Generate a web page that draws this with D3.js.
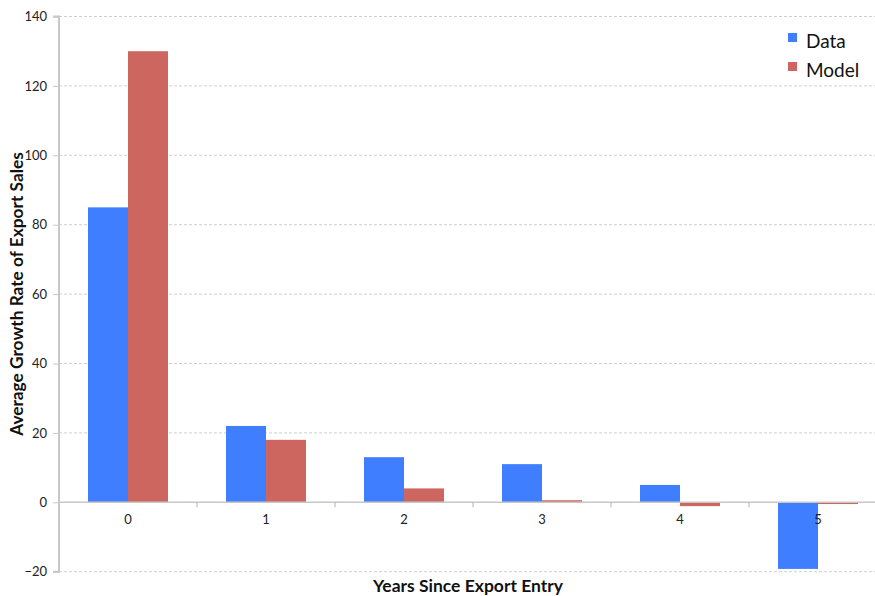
<!DOCTYPE html>
<html><head><meta charset="utf-8">
<script src="https://cdn.jsdelivr.net/npm/d3@7"></script>
<style>body{margin:0;background:#fff;} svg{display:block;font-family:Lato, "Open Sans", sans-serif;}</style>
</head><body>
<svg id="chart" width="875" height="596"></svg>
<script>
const categories = ["0","1","2","3","4","5"];
const seriesNames = ["Data","Model"];
const dataValues = [85, 22, 13, 11, 5, -19.2];
const modelValues = [130, 18, 4, 0.6, -1.1, -0.5];
const yTicks = [-20, 0, 20, 40, 60, 80, 100, 120, 140];
const colors = ["#3f7fff", "#cc665e"];

const svg = d3.select("#chart");
const mLeft = 59, mRight = 887, mTop = 16.5, mBottom = 571.7;

const x = d3.scaleBand().domain(categories).range([mLeft, mRight]).paddingInner(0).paddingOuter(0);
const xs = d3.scaleBand().domain(seriesNames).range([0, x.bandwidth()]).paddingInner(0).paddingOuter(0.725);
const y = d3.scaleLinear().domain([-20, 140]).range([mBottom, mTop]);

// gridlines
svg.append("g").selectAll("line").data(yTicks.filter(d => d !== 0)).join("line")
  .attr("x1", mLeft).attr("x2", 875).attr("y1", d => y(d)).attr("y2", d => y(d))
  .attr("stroke", "#cfcfcf").attr("stroke-width", 1).attr("stroke-dasharray", "3,2");

// y axis
const yAxis = d3.axisLeft(y).tickValues(yTicks).tickSize(6).tickPadding(6);
const gy = svg.append("g").attr("transform", `translate(${mLeft},0)`).call(yAxis);
gy.select(".domain").attr("stroke", "#c8c8c8").attr("stroke-width", 2).attr("d", `M-6,${y(140)}H0V${y(-20)}H-6`);
gy.selectAll(".tick line").attr("stroke", "#c8c8c8");
gy.selectAll("text").attr("font-size", 13).attr("fill", "#222").attr("font-family", "Lato, sans-serif");

// bars
const series = [dataValues, modelValues];
const g = svg.append("g");
categories.forEach((c, i) => {
  series.forEach((vals, s) => {
    const v = vals[i];
    g.append("rect")
      .attr("x", x(c) + xs(seriesNames[s]))
      .attr("width", xs.bandwidth())
      .attr("y", y(Math.max(0, v)))
      .attr("height", Math.abs(y(v) - y(0)))
      .attr("fill", colors[s]);
  });
});

// x axis at zero
const xAxis = d3.axisBottom(x).tickSize(0).tickPadding(12);
const gx = svg.append("g").attr("transform", `translate(0,${y(0)})`).call(xAxis);
gx.select(".domain").attr("stroke", "#c8c8c8").attr("stroke-width", 1.5).attr("d", `M${mLeft},0H875`);
gx.selectAll("text").attr("font-size", 13).attr("fill", "#222").attr("font-family", "Lato, sans-serif");
// separator ticks between categories
svg.append("g").selectAll("line").data(categories.slice(1)).join("line")
  .attr("x1", d => x(d)).attr("x2", d => x(d))
  .attr("y1", y(0)).attr("y2", y(0) + 5)
  .attr("stroke", "#b0b0b0").attr("stroke-width", 1);

// titles
svg.append("text").attr("transform", `translate(23,294) rotate(-90)`)
  .attr("text-anchor", "middle").attr("font-weight", "bold").attr("font-size", 17.3).attr("fill", "#111")
  .text("Average Growth Rate of Export Sales");
svg.append("text").attr("x", 468).attr("y", 592)
  .attr("text-anchor", "middle").attr("font-weight", "bold").attr("font-size", 17.5).attr("fill", "#111")
  .text("Years Since Export Entry");

// legend
const lg = svg.append("g");
seriesNames.forEach((n, i) => {
  lg.append("rect").attr("x", 788).attr("y", 33 + i * 29).attr("width", 9).attr("height", 9).attr("fill", colors[i]);
  lg.append("text").attr("x", 806).attr("y", 48 + i * 29).attr("font-size", 19).attr("fill", "#111").text(n);
});
</script>
</body></html>
